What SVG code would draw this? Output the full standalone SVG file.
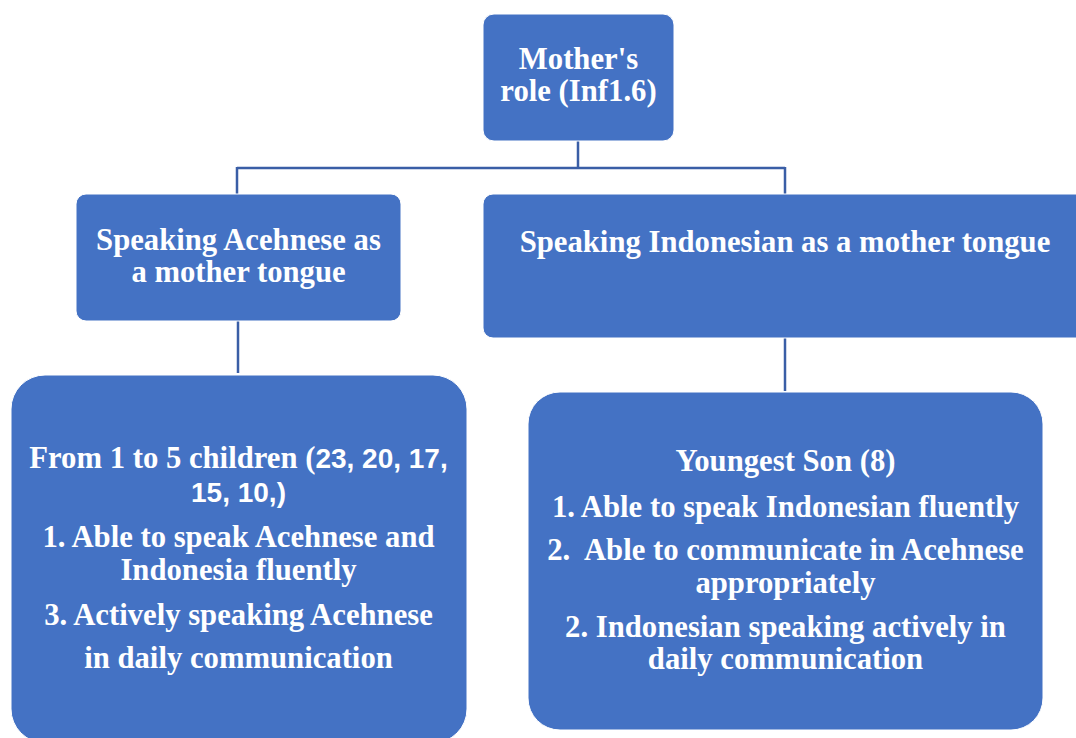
<svg xmlns="http://www.w3.org/2000/svg" width="1076" height="738" viewBox="0 0 1076 738">
<style>
.box{fill:#4472C4;stroke:#ffffff;stroke-width:1}
.conn{stroke:#3A5EA6;stroke-width:2.5;fill:none}
text{font-family:"Liberation Serif","Times New Roman",serif;font-weight:bold;font-size:30.7px;fill:#ffffff;text-anchor:middle}
.sans{font-family:"Liberation Sans",Arial,sans-serif;font-size:28px}
</style>
<rect width="1076" height="738" fill="#ffffff"/>
<g id="connectors">
<path class="conn" d="M578 141 V168 M237 168 H785 M237 167 V194 M785 167 V194"/>
<path class="conn" d="M238 321 V373"/>
<path class="conn" d="M785 338 V391"/>
</g>
<g id="mothers-role">
<rect class="box" x="483" y="14" width="191" height="127" rx="11"/>
<text x="578.5" y="69">Mother's</text>
<text x="578.5" y="101">role (Inf1.6)</text>
</g>
<g id="acehnese">
<rect class="box" x="76" y="194" width="325" height="127" rx="10"/>
<text x="238.5" y="250">Speaking Acehnese as</text>
<text x="238.5" y="282">a mother tongue</text>
</g>
<g id="indonesian">
<rect class="box" x="483" y="194" width="610" height="144" rx="10"/>
<text x="785" y="252">Speaking Indonesian as a mother tongue</text>
</g>
<g id="children">
<rect class="box" x="11" y="375" width="456" height="368" rx="34"/>
<text x="238.5" y="468">From 1 to 5 children (<tspan class="sans">23, 20, 17,</tspan></text>
<text x="238.5" y="502" class="sans">15, 10,)</text>
<text x="238.5" y="547">1. Able to speak Acehnese and</text>
<text x="238.5" y="580">Indonesia fluently</text>
<text x="238.5" y="625">3. Actively speaking Acehnese</text>
<text x="238.5" y="668">in daily communication</text>
</g>
<g id="youngest-son">
<rect class="box" x="528" y="392" width="515" height="338" rx="32"/>
<text x="785.5" y="471">Youngest Son (8)</text>
<text x="785.5" y="517">1. Able to speak Indonesian fluently</text>
<text x="785.5" y="560" style="white-space:pre">2.  Able to communicate in Acehnese</text>
<text x="785.5" y="593">appropriately</text>
<text x="785.5" y="637">2. Indonesian speaking actively in</text>
<text x="785.5" y="669">daily communication</text>
</g>
</svg>
